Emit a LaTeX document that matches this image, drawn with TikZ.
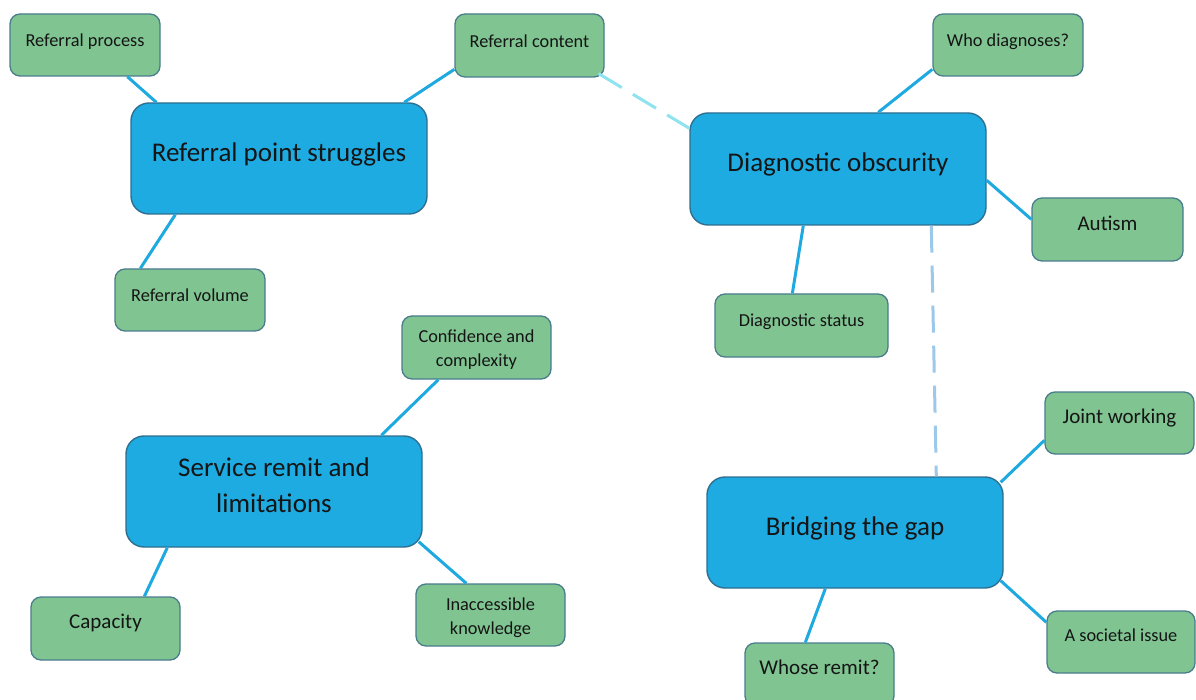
\documentclass[tikz,border=0pt]{standalone}
\usepackage{fontspec}
\setmainfont{Carlito}
\definecolor{bigfill}{HTML}{1DABE2}
\definecolor{bigline}{HTML}{2F6F8F}
\definecolor{smfill}{HTML}{7FC491}
\definecolor{smline}{HTML}{4A7D8C}
\definecolor{link}{HTML}{1EAAE0}
\definecolor{dashcyan}{HTML}{8FE3EE}
\definecolor{dashblue}{HTML}{9CC8EA}
\definecolor{txt}{HTML}{151515}
\newcommand\up[2]{\raisebox{#1}[\height][\depth]{#2}}
\tikzset{
  bigbox/.style={draw=bigline, line width=1.4pt, fill=bigfill, rounded corners=18pt,
    inner sep=0pt, minimum width=296pt, minimum height=111pt, text=txt, align=center,
    font=\fontsize{27}{36}\selectfont},
  smbox/.style={draw=smline, line width=1.3pt, fill=smfill, rounded corners=10pt,
    inner sep=0pt, minimum width=149pt, minimum height=62pt, text=txt, align=center,
    font=\fontsize{18.3}{24}\selectfont},
  midtext/.style={font=\fontsize{21}{24}\selectfont},
  conn/.style={draw=link, line width=3pt},
  dcyan/.style={draw=dashcyan, line width=3pt, dash pattern=on 27pt off 13pt},
  dblue/.style={draw=dashblue, line width=3pt, dash pattern=on 27pt off 13pt}
}
\begin{document}
\begin{tikzpicture}[x=1pt,y=-1pt]
\clip (0,0) rectangle (1196,700);
\fill[white] (0,0) rectangle (1196,700);
% central topics
\node[bigbox] (rps) at (279,158.5) {\up{4.5pt}{Referral point struggles}};
\node[bigbox, minimum height=112pt] (do) at (838,169) {\up{5pt}{Diagnostic obscurity}};
\node[bigbox] (srl) at (274,491.5) {\up{6.5pt}{Service remit and}\\\up{6.5pt}{limitations}};
\node[bigbox] (btg) at (855,532.5) {\up{4.5pt}{Bridging the gap}};
% subtopics
\node[smbox, minimum width=150pt] (rp) at (85,45) {\up{3pt}{Referral process}};
\node[smbox, minimum height=63pt] (rc) at (529.5,45.5) {\up{4.5pt}{Referral content}};
\node[smbox, minimum width=150pt] (wd) at (1008,45) {\up{3pt}{Who diagnoses?}};
\node[smbox, midtext, minimum width=151pt, minimum height=63pt] (au) at (1107.5,229.5) {\up{6.5pt}{Autism}};
\node[smbox, minimum width=150pt] (rv) at (190,300) {\up{5pt}{Referral volume}};
\node[smbox, minimum width=173pt, minimum height=63pt] (ds) at (801.5,325.5) {\up{3.5pt}{Diagnostic status}};
\node[smbox, minimum height=63pt] (cc) at (476.5,347.5) {\up{-2pt}{Confidence and}\\\up{-2pt}{complexity}};
\node[smbox, midtext] (jw) at (1119.5,423) {\up{5pt}{Joint working}};
\node[smbox, midtext, minimum height=63pt] (ca) at (105.5,628.5) {\up{5.5pt}{Capacity}};
\node[smbox] (ik) at (490.5,615) {\up{-3pt}{Inaccessible}\\\up{-3pt}{knowledge}};
\node[smbox, minimum width=148pt] (si) at (1121,642) {\up{7pt}{A societal issue}};
\node[smbox, midtext, minimum height=63pt] (wr) at (819.5,674.5) {\up{7pt}{Whose remit?}};
% connectors
\draw[conn] ([xshift=118pt]rp.south west) -- ([xshift=26pt]rps.north west);
\draw[conn] ([yshift=-56pt]rc.north west) -- ([xshift=274pt]rps.north west);
\draw[conn] ([xshift=45pt]rps.south west) -- ([xshift=26pt]rv.north west);
\draw[conn] ([yshift=-56pt]wd.north west) -- ([xshift=189pt]do.north west);
\draw[conn] ([yshift=-68pt]do.north east) -- ([yshift=-22pt]au.north west);
\draw[conn] ([xshift=114pt]do.south west) -- ([xshift=78pt]ds.north west);
\draw[dcyan] ([shift={(-6pt,4pt)}]rc.south east) -- ([yshift=-16pt]do.north west);
\draw[dblue] ([xshift=242pt]do.south west) -- ([xshift=230pt]btg.north west);
\draw[conn] ([xshift=37pt]cc.south west) -- ([xshift=256pt]srl.north west);
\draw[conn] ([xshift=42pt]srl.south west) -- ([xshift=114pt]ca.north west);
\draw[conn] ([shift={(-4pt,6pt)}]srl.south east) -- ([xshift=51pt]ik.north west);
\draw[conn] ([yshift=-49pt]jw.north west) -- ([shift={(-3pt,-6pt)}]btg.north east);
\draw[conn] ([shift={(-3pt,8pt)}]btg.south east) -- ([yshift=-12pt]si.north west);
\draw[conn] ([xshift=119pt]btg.south west) -- ([xshift=61pt]wr.north west);
\end{tikzpicture}
\end{document}
